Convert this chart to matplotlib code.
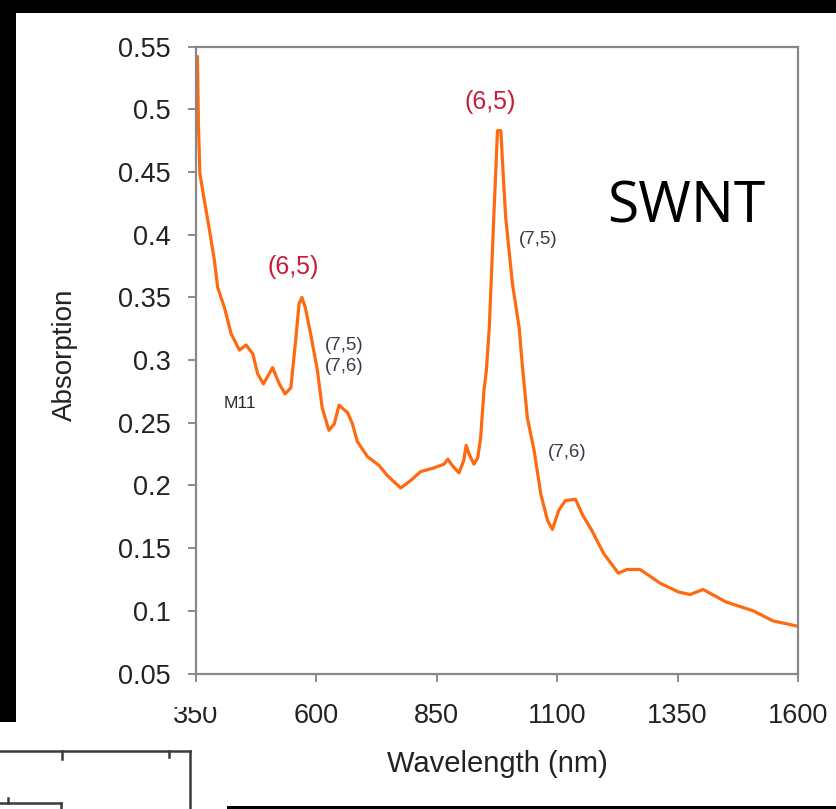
import numpy as np
import matplotlib.pyplot as plt
from matplotlib.patches import Rectangle
from matplotlib.lines import Line2D

# absorption spectrum
wavelength = [353, 355, 358, 367, 377, 388, 395, 409, 423, 440, 454, 468, 478, 490,
              509, 523, 535, 547, 557, 564, 570, 577, 588, 602, 612, 626, 637, 647,
              665, 675, 685, 706, 730, 747, 775, 796, 816, 844, 865, 873, 882, 896,
              906, 911, 917, 927, 935, 941, 948, 953, 959, 969, 976, 983, 987, 993,
              1007, 1021, 1028, 1038, 1052, 1066, 1080, 1090, 1103, 1117, 1138, 1152,
              1172, 1196, 1227, 1245, 1272, 1314, 1352, 1376, 1403, 1451, 1507, 1548, 1596]
absorption = [0.542, 0.489, 0.449, 0.428, 0.406, 0.380, 0.358, 0.342, 0.321, 0.308,
              0.312, 0.305, 0.289, 0.281, 0.294, 0.281, 0.273, 0.278, 0.316, 0.345,
              0.350, 0.342, 0.321, 0.292, 0.262, 0.244, 0.249, 0.264, 0.258, 0.249,
              0.235, 0.223, 0.216, 0.208, 0.198, 0.204, 0.211, 0.214, 0.217, 0.221,
              0.216, 0.210, 0.220, 0.232, 0.225, 0.217, 0.222, 0.238, 0.276, 0.292,
              0.326, 0.420, 0.483, 0.483, 0.454, 0.414, 0.361, 0.326, 0.294, 0.254,
              0.228, 0.193, 0.172, 0.165, 0.180, 0.188, 0.189, 0.177, 0.164, 0.146,
              0.130, 0.133, 0.133, 0.122, 0.115, 0.113, 0.117, 0.107, 0.100, 0.092, 0.088]

x_ticks = [350, 600, 850, 1100, 1350, 1600]
y_ticks = [0.05, 0.1, 0.15, 0.2, 0.25, 0.3, 0.35, 0.4, 0.45, 0.5, 0.55]
y_labels = ['0.05', '0.1', '0.15', '0.2', '0.25', '0.3', '0.35', '0.4', '0.45', '0.5', '0.55']

# peak labels: (text, x, y, kind)
peak_labels = [('(6,5)', 551, 0.374, 'main'), ('(6,5)', 961, 0.506, 'main'),
               ('(7,5)', 657, 0.312, 'minor'), ('(7,6)', 657, 0.295, 'minor'),
               ('(7,5)', 1061, 0.396, 'minor'), ('(7,6)', 1121, 0.226, 'minor'),
               ('M11', 441, 0.265, 'minor')]

plt.rcParams['font.family'] = ['Liberation Sans', 'DejaVu Sans']

W, H = 836, 809
fig = plt.figure(figsize=(W / 100, H / 100), dpi=100, facecolor='white')
ax = fig.add_axes([196 / W, 1 - 673.5 / H, (798 - 196) / W, (673.5 - 46.7) / H])

ax.plot(wavelength, absorption, color='#ff6a10', lw=2.3)

ax.set_xlim(350, 1600)
ax.set_ylim(0.05, 0.55)
ax.set_xticks(x_ticks)
ax.set_yticks(y_ticks)
ax.set_yticklabels(y_labels)
ax.tick_params(axis='both', direction='out', length=6, width=1.2, color='#777777',
               labelsize=19.5, labelcolor='#222222')
ax.tick_params(axis='y', pad=12)
ax.tick_params(axis='x', pad=15)
for s in ax.spines.values():
    s.set_color('#888888')
    s.set_linewidth(1.6)

# axis titles placed where they sit in the picture
fig.text(497 / W, 1 - 764 / H, 'Wavelength (nm)', ha='center', va='center',
         fontsize=21, color='#222222')
fig.text(65 / W, 1 - 355 / H, 'Absorption', ha='center', va='center',
         rotation=90, fontsize=20, color='#222222')

for txt, x, y, kind in peak_labels:
    if kind == 'main':
        ax.text(x, y, txt, ha='center', va='center', fontsize=18, color='#c81e3c')
    elif txt == 'M11':
        ax.text(x, y, txt, ha='center', va='center', fontsize=12.5, color='#2a2a2a')
    else:
        ax.text(x, y, txt, ha='center', va='center', fontsize=13.5, color='#3a3a4a')

ax.text(1367, 0.421, 'SWNT', ha='center', va='center', fontsize=41,
        color='black', family=['Open Sans', 'DejaVu Sans'])

# surrounding screenshot frame
def px_rect(x0, y0, x1, y1, color, z=-1):
    fig.add_artist(Rectangle((x0 / W, 1 - y1 / H), (x1 - x0) / W, (y1 - y0) / H,
                             transform=fig.transFigure, facecolor=color,
                             edgecolor='none', zorder=z))

px_rect(0, 0, W, 13, 'black')
px_rect(0, 0, 16, 722, 'black')
px_rect(227, 806, W, H, 'black')
# top of the "350" label is cut off in the screenshot
px_rect(170, 685, 224, 707, 'white', z=10)

def px_line(xs, ys, lw=1.8):
    fig.add_artist(Line2D([x / W for x in xs], [1 - y / H for y in ys],
                          transform=fig.transFigure, color='#3a3a3a', lw=lw))

px_line([0, 190], [751, 751])
px_line([190, 190], [751, H])
px_line([62, 62], [751, 759])
px_line([169, 169], [751, 757])
px_line([0, 61], [803, 803])
px_line([61, 61], [803, H])
px_line([8, 8], [803, 798])

fig.savefig('out.png', dpi=100, facecolor=fig.get_facecolor())
